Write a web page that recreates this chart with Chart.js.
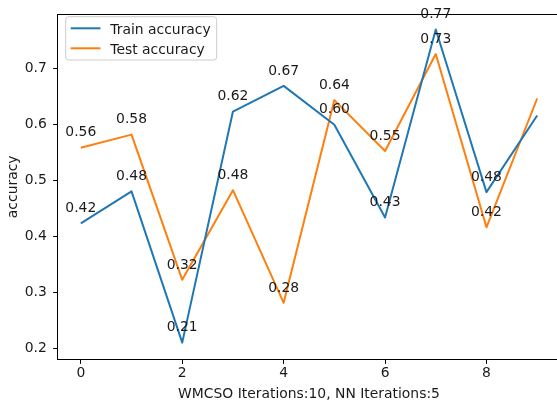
<!DOCTYPE html>
<html>
<head>
<meta charset="utf-8">
<script src="https://cdn.jsdelivr.net/npm/chart.js@4/dist/chart.umd.min.js"></script>
<style>
  html, body { margin: 0; padding: 0; background: #fff; overflow: hidden; }
  #wrap { position: absolute; left: 0; top: 0; width: 566px; height: 401px; }
</style>
</head>
<body>
<div id="wrap"><canvas id="chart"></canvas></div>
<script>
// Iteration index on the x axis
const iterations = [0, 1, 2, 3, 4, 5, 6, 7, 8, 9];
// Accuracy per iteration
const trainAcc = [0.4236, 0.4808, 0.2103, 0.6236, 0.6695, 0.6000, 0.4340, 0.7705, 0.4795, 0.6166];
const testAcc  = [0.5589, 0.5824, 0.3226, 0.4830, 0.2815, 0.6441, 0.5530, 0.7265, 0.4166, 0.6470];
// Only the first nine points carry a value annotation
const annotatedCount = 9;
// Axis ticks
const xTicks = [0, 2, 4, 6, 8];
const yTicks = [0.2, 0.3, 0.4, 0.5, 0.6, 0.7];

const FONT = 'DejaVu Sans';
const FS = 13.9;
const TXT = '#1a1a1a';

const toPoints = arr => arr.map((v, i) => ({ x: iterations[i], y: v }));

const overlay = {
  id: 'overlay',
  afterDatasetsDraw(chart) {
    const ctx = chart.ctx;
    const area = chart.chartArea;
    const xs = chart.scales.x, ys = chart.scales.y;
    ctx.save();

    // frame around the plotting area
    ctx.strokeStyle = '#000';
    ctx.lineWidth = 1;
    ctx.strokeRect(Math.round(area.left) - 0.5, Math.round(area.top) - 0.5,
                   Math.round(area.right - area.left) + 1, Math.round(area.bottom - area.top) + 1);

    // value annotations above points
    ctx.font = FS + 'px "' + FONT + '"';
    ctx.fillStyle = TXT;
    ctx.textAlign = 'center';
    ctx.textBaseline = 'alphabetic';
    chart.data.datasets.forEach(ds => {
      ds.data.slice(0, annotatedCount).forEach(p => {
        const px = xs.getPixelForValue(p.x);
        const py = ys.getPixelForValue(p.y);
        ctx.fillText(p.y.toFixed(2), px, py - 11.3);
      });
    });

    // axis titles
    ctx.textAlign = 'center';
    ctx.fillText('WMCSO Iterations:10, NN Iterations:5', (area.left + area.right) / 2, 397.8);
    ctx.save();
    ctx.translate(20, (area.top + area.bottom) / 2);
    ctx.rotate(-Math.PI / 2);
    ctx.textBaseline = 'bottom';
    ctx.fillText('accuracy', 0, 0);
    ctx.restore();

    // legend
    const lx = 65.7, ly = 16.7, lw = 151, lh = 43.3, r = 3;
    ctx.beginPath();
    ctx.moveTo(lx + r, ly);
    ctx.lineTo(lx + lw - r, ly);
    ctx.quadraticCurveTo(lx + lw, ly, lx + lw, ly + r);
    ctx.lineTo(lx + lw, ly + lh - r);
    ctx.quadraticCurveTo(lx + lw, ly + lh, lx + lw - r, ly + lh);
    ctx.lineTo(lx + r, ly + lh);
    ctx.quadraticCurveTo(lx, ly + lh, lx, ly + lh - r);
    ctx.lineTo(lx, ly + r);
    ctx.quadraticCurveTo(lx, ly, lx + r, ly);
    ctx.closePath();
    ctx.fillStyle = 'rgba(255,255,255,0.8)';
    ctx.fill();
    ctx.strokeStyle = '#cccccc';
    ctx.lineWidth = 1;
    ctx.stroke();

    chart.data.datasets.forEach((ds, i) => {
      const y = 28.3 + i * 20;
      ctx.beginPath();
      ctx.moveTo(70.7, y);
      ctx.lineTo(100.5, y);
      ctx.strokeStyle = ds.borderColor;
      ctx.lineWidth = 2;
      ctx.stroke();
      ctx.fillStyle = TXT;
      ctx.textAlign = 'left';
      ctx.textBaseline = 'alphabetic';
      ctx.fillText(ds.label, 110.3, y + 5.8);
    });

    ctx.restore();
  }
};

new Chart(document.getElementById('chart'), {
  type: 'line',
  data: {
    datasets: [
      { label: 'Train accuracy', data: toPoints(trainAcc), borderColor: '#1f77b4', backgroundColor: '#1f77b4',
        borderWidth: 2, pointRadius: 0, tension: 0, fill: false, borderJoinStyle: 'round' },
      { label: 'Test accuracy', data: toPoints(testAcc), borderColor: '#ff7f0e', backgroundColor: '#ff7f0e',
        borderWidth: 2, pointRadius: 0, tension: 0, fill: false, borderJoinStyle: 'round' }
    ]
  },
  options: {
    responsive: true,
    maintainAspectRatio: false,
    animation: false,
    events: [],
    layout: { padding: { left: 0, top: 10, right: 6, bottom: 0 } },
    plugins: { legend: { display: false }, tooltip: { enabled: false } },
    scales: {
      x: {
        type: 'linear',
        min: -0.45,
        max: 9.45,
        afterBuildTicks: s => { s.ticks = xTicks.map(v => ({ value: v })); },
        afterFit: s => { s.height = 42; },
        grid: { display: true, drawOnChartArea: false, drawTicks: true, tickLength: 4.9, color: '#000', lineWidth: 1 },
        border: { display: false },
        ticks: { color: TXT, font: { family: FONT, size: FS }, padding: 1.5, maxRotation: 0, callback: v => String(v) }
      },
      y: {
        type: 'linear',
        min: 0.181,
        max: 0.797,
        afterBuildTicks: s => { s.ticks = yTicks.map(v => ({ value: v })); },
        afterFit: s => { s.width = 58; },
        grid: { display: true, drawOnChartArea: false, drawTicks: true, tickLength: 4.9, color: '#000', lineWidth: 1 },
        border: { display: false },
        ticks: { color: TXT, font: { family: FONT, size: FS }, padding: 6.3, callback: v => v.toFixed(1) }
      }
    }
  },
  plugins: [overlay]
});
</script>
</body>
</html>
